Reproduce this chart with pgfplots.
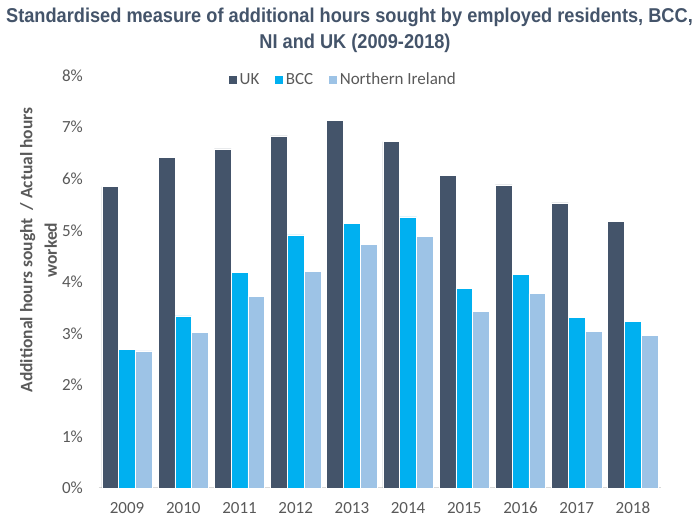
\documentclass[border=0pt]{standalone}
\usepackage{fontspec}
\setmainfont{Carlito}
\newfontfamily\titlefont[FakeStretch=0.91]{Liberation Sans}
\usepackage{pgfplots}
\pgfplotsset{compat=1.18}

\definecolor{ukcol}{HTML}{44546A}
\definecolor{bcccol}{HTML}{00B0F0}
\definecolor{nicol}{HTML}{9DC3E6}
\definecolor{txtgrey}{HTML}{595959}
\definecolor{titlecol}{HTML}{44546A}
\definecolor{axisgrey}{HTML}{D9D9D9}

\begin{document}
\begin{tikzpicture}
\useasboundingbox (-99pt,-31pt) rectangle (600pt,488pt);
\begin{axis}[
  scale only axis,
  width=562pt,
  height=412.3pt,
  ybar=0pt,
  bar width=16.8pt,
  xmin=-0.5, xmax=9.5,
  ymin=0, ymax=8,
  xtick=data,
  xticklabels={2009,2010,2011,2012,2013,2014,2015,2016,2017,2018},
  ytick={0,1,...,8},
  yticklabel={\pgfmathprintnumber{\tick}\%},
  /pgf/number format/assume math mode=true,
  major tick length=0pt,
  axis x line*=bottom,
  axis y line*=left,
  x axis line style={draw=axisgrey, line width=1pt, -},
  y axis line style={draw=none},
  tick label style={font=\fontsize{17}{20}\selectfont, text=txtgrey},
  yticklabel style={anchor=east, inner sep=0pt, xshift=-16pt},
  xticklabel style={anchor=base, inner sep=0pt, yshift=-26pt},
  legend columns=3,
  legend style={at={(0.2295,0.9908)}, anchor=west, draw=none, fill=none,
    inner sep=0pt, font=\fontsize{17}{20}\selectfont, text=txtgrey,
    /tikz/every even column/.append style={column sep=13pt},
    nodes={inner sep=2pt}},
  legend image code/.code={\fill[#1] (0pt,-4.5pt) rectangle (9pt,4.5pt);},
  every axis plot/.append style={draw=white, line width=0.5pt},
]
\addplot[fill=ukcol] coordinates {
  (0,5.85) (1,6.42) (2,6.58) (3,6.83) (4,7.13)
  (5,6.72) (6,6.07) (7,5.88) (8,5.53) (9,5.18)};
\addplot[fill=bcccol] coordinates {
  (0,2.69) (1,3.34) (2,4.18) (3,4.91) (4,5.13)
  (5,5.26) (6,3.88) (7,4.15) (8,3.31) (9,3.23)};
\addplot[fill=nicol] coordinates {
  (0,2.66) (1,3.02) (2,3.72) (3,4.21) (4,4.72)
  (5,4.88) (6,3.42) (7,3.77) (8,3.04) (9,2.96)};
\legend{UK, BCC, Northern Ireland}
\end{axis}
\node[anchor=base, text=titlecol, font=\titlefont\bfseries\fontsize{20}{23}\selectfont]
  at (250.5pt,465.3pt) {Standardised measure of additional hours sought by employed residents, BCC,};
\node[anchor=base, text=titlecol, font=\titlefont\bfseries\fontsize{20}{23}\selectfont]
  at (256pt,439pt) {NI and UK (2009-2018)};
\node[rotate=90, align=center, text=txtgrey, font=\bfseries\fontsize{17.5}{24.5}\selectfont]
  at (-60.5pt,238pt) {\fontsize{17.5}{24.5}\selectfont Additional hours sought~~/ Actual hours\\worked};
\end{tikzpicture}
\end{document}
